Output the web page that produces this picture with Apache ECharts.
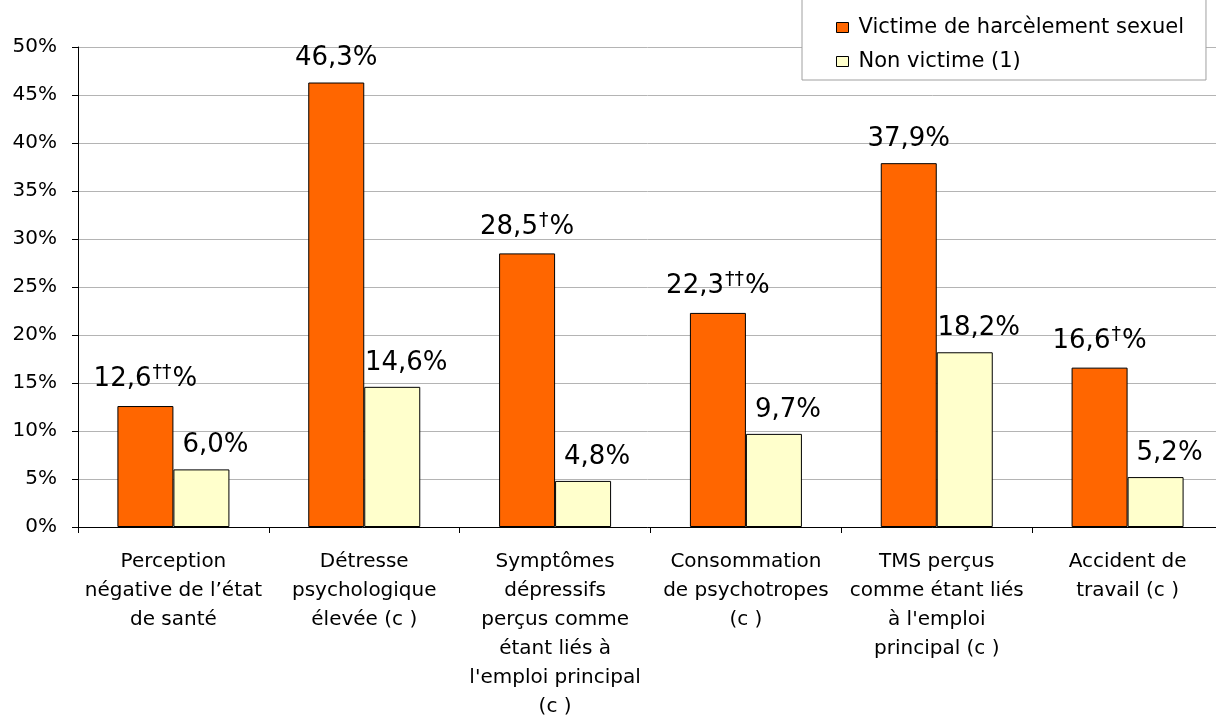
<!DOCTYPE html>
<html>
<head>
<meta charset="utf-8">
<script src="https://cdn.jsdelivr.net/npm/echarts@6/dist/echarts.min.js"></script>
<style>
html,body{margin:0;padding:0;background:#fff;}
#main{width:1216px;height:715px;}
</style>
</head>
<body>
<div id="main"></div>
<script>
var categories = [
  "Perception\nnégative de l’état\nde santé",
  "Détresse\npsychologique\nélevée (c )",
  "Symptômes\ndépressifs\nperçus comme\nétant liés à\nl'emploi principal\n(c )",
  "Consommation\nde psychotropes\n(c )",
  "TMS perçus\ncomme étant liés\nà l'emploi\nprincipal (c )",
  "Accident de\ntravail (c )"
];
var seriesNames = ["Victime de harcèlement sexuel", "Non victime (1)"];
var victimValues = [12.6, 46.3, 28.5, 22.3, 37.9, 16.6];
var victimMarks = ["††", "", "†", "††", "", "†"];
var nonVictimValues = [6.0, 14.6, 4.8, 9.7, 18.2, 5.2];
var yTicks = { min: 0, max: 50, interval: 5 };

var FONT = "'DejaVu Sans', 'Liberation Sans', Arial, sans-serif";
function fmt(v){ return v.toFixed(1).replace('.', ','); }

var chart = echarts.init(document.getElementById('main'), null, {renderer:'canvas'});
chart.setOption({
  backgroundColor: '#ffffff',
  animation: false,
  textStyle: { fontFamily: FONT, color: '#000' },
  legend: {
    orient: 'vertical',
    left: 802,
    top: -2,
    backgroundColor: '#ffffff',
    borderColor: '#a0a0a0',
    borderWidth: 1,
    padding: [19, 22, 8, 34],
    itemGap: 13,
    itemWidth: 12,
    itemHeight: 10,
    icon: 'rect',
    itemStyle: { borderColor: '#000', borderWidth: 1 },
    textStyle: { fontFamily: FONT, fontSize: 21, color: '#000', padding: [0,0,0,5] },
    data: seriesNames
  },
  grid: { left: 78, top: 47, bottom: 188, right: -7, containLabel: false, outerBoundsMode: 'none' },
  xAxis: {
    type: 'category',
    data: categories,
    axisLine: { lineStyle: { color: '#000', width: 1 } },
    axisTick: { show: true, length: 6, lineStyle: { color: '#000' } },
    axisLabel: { interval: 0, fontFamily: FONT, fontSize: 20, lineHeight: 29, color: '#000', margin: 20 },
    splitLine: { show: false }
  },
  yAxis: {
    type: 'value',
    min: yTicks.min, max: yTicks.max, interval: yTicks.interval,
    axisLine: { show: true, lineStyle: { color: '#000', width: 1 } },
    axisTick: { show: true, length: 6, lineStyle: { color: '#000' } },
    axisLabel: { formatter: '{value}%', fontFamily: FONT, fontSize: 20, color: '#000', margin: 21 },
    splitLine: { show: true, lineStyle: { color: '#b4b4b4', width: 1 } }
  },
  series: [
    {
      name: seriesNames[0],
      type: 'bar',
      data: victimValues,
      barWidth: 56,
      barGap: '0%',
      itemStyle: { color: '#FF6600', borderColor: '#000', borderWidth: 1 },
      label: {
        show: true,
        position: 'top',
        distance: 11,
        fontFamily: FONT,
        fontSize: 26,
        color: '#000',
        formatter: function(p){
          var m = victimMarks[p.dataIndex];
          return fmt(p.value) + (m ? '{sup|' + m + '}' : '') + '%';
        },
        rich: {
          sup: { fontFamily: FONT, fontSize: 19, color: '#000', verticalAlign: 'top', padding: [0, 1, 12, 1] }
        }
      }
    },
    {
      name: seriesNames[1],
      type: 'bar',
      data: nonVictimValues,
      barWidth: 56,
      barGap: '0%',
      itemStyle: { color: '#FFFFCC', borderColor: '#000', borderWidth: 1 },
      label: {
        show: true,
        position: 'top',
        distance: 11,
        offset: [14, 0],
        fontFamily: FONT,
        fontSize: 26,
        color: '#000',
        formatter: function(p){ return fmt(p.value) + '%'; }
      }
    }
  ]
});
</script>
</body>
</html>
